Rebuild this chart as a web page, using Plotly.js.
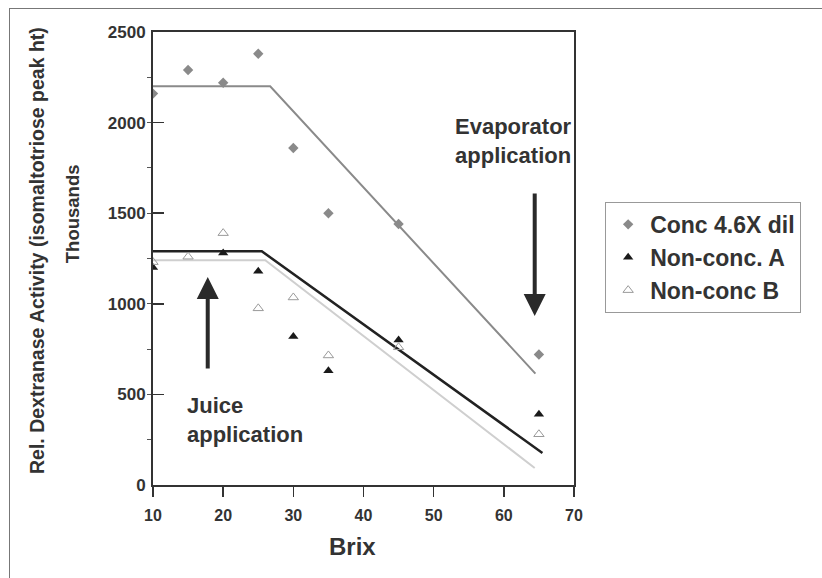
<!DOCTYPE html>
<html>
<head>
<meta charset="utf-8">
<script src="https://cdn.plot.ly/plotly-3.0.1.min.js"></script>
<style>
  html, body { margin: 0; padding: 0; background: #fff; }
  #wrap { position: relative; width: 822px; height: 578px; }
  #chart { position: absolute; left: 0; top: 0; width: 822px; height: 578px; }
  #frame { position: absolute; left: 9px; top: 8px; width: 813px; height: 570px;
           border-left: 1.5px solid #777; border-top: 1.5px solid #777; pointer-events: none; }
</style>
</head>
<body>
<div id="wrap"><div id="chart"></div><div id="frame"></div></div>
<script>
// Data
const brixConc = [10, 15, 20, 25, 30, 35, 45, 65];
const concVals = [2160, 2290, 2220, 2380, 1860, 1500, 1440, 720];

const brixA = [10, 20, 25, 30, 35, 45, 65];
const nonConcA = [1200, 1280, 1180, 820, 630, 800, 390];

const brixB = [10, 15, 20, 25, 30, 35, 45, 65];
const nonConcB = [1230, 1260, 1390, 975, 1035, 715, 760, 280];

// fitted break-point lines
const fitConcX = [10, 26.7, 64.5];
const fitConcY = [2200, 2200, 615];
const fitAX = [10, 25.5, 65.5];
const fitAY = [1290, 1290, 177];
const fitBX = [10, 26, 64.4];
const fitBY = [1240, 1240, 94];

const xTicks = [10, 20, 30, 40, 50, 60, 70];
const yTicks = [0, 500, 1000, 1500, 2000, 2500];

const FONT = 'Liberation Sans, Arial, sans-serif';

const traces = [
  {x: fitBX, y: fitBY, mode: 'lines', line: {color: '#cfcfcf', width: 2}, showlegend: false, hoverinfo: 'skip'},
  {x: fitAX, y: fitAY, mode: 'lines', line: {color: '#222', width: 2.5}, showlegend: false, hoverinfo: 'skip'},
  {x: fitConcX, y: fitConcY, mode: 'lines', line: {color: '#8a8a8a', width: 2}, showlegend: false, hoverinfo: 'skip'},
  {x: brixConc, y: concVals, mode: 'markers', name: 'Conc 4.6X dil',
   marker: {symbol: 'diamond', size: 8, color: '#8a8a8a'}},
  {x: brixA, y: nonConcA, mode: 'markers', name: 'Non-conc. A',
   marker: {symbol: 'triangle-up', size: 9, color: '#1a1a1a'}},
  {x: brixB, y: nonConcB, mode: 'markers', name: 'Non-conc B',
   marker: {symbol: 'triangle-up-open', size: 9, color: '#9a9a9a', line: {width: 1}}}
];

const layout = {
  width: 822, height: 578,
  margin: {l: 153, r: 248, t: 32, b: 93},
  paper_bgcolor: '#fff', plot_bgcolor: '#fff',
  font: {family: FONT, color: '#333'},
  showlegend: true,
  legend: {
    x: 1.074, y: 0.625, xanchor: 'left', yanchor: 'top',
    bordercolor: '#999', borderwidth: 1, bgcolor: '#fff',
    font: {family: FONT, size: 23, color: '#333', weight: 'bold'},
    itemwidth: 34
  },
  xaxis: {
    range: [10, 70], tickvals: xTicks, ticktext: xTicks.map(String),
    ticks: 'outside', ticklen: 10, tickwidth: 1.5, tickcolor: '#333',
    showline: true, linecolor: '#333', linewidth: 2, mirror: true,
    showgrid: false, zeroline: false,
    tickfont: {family: FONT, size: 16, color: '#333', weight: 'bold'},
    ticklabelstandoff: 5
  },
  yaxis: {
    range: [0, 2500], tickvals: yTicks, ticktext: yTicks.map(String),
    ticks: 'inside', ticklen: 11, tickwidth: 1.5, tickcolor: '#333',
    minor: {dtick: 250, ticks: 'outside', ticklen: 4, tickwidth: 1, tickcolor: '#555', showgrid: false},
    showline: true, linecolor: '#333', linewidth: 2, mirror: true,
    showgrid: false, zeroline: false,
    tickfont: {family: FONT, size: 17, color: '#333', weight: 'bold'},
    ticklabelstandoff: 2
  },
  annotations: [
    {text: 'Rel. Dextranase Activity (isomaltotriose peak ht)', xref: 'paper', yref: 'paper',
     x: -0.2755, y: 0.5166, xanchor: 'center', yanchor: 'middle', textangle: -90, showarrow: false,
     font: {family: FONT, size: 19.5, color: '#333', weight: 'bold'}},
    {text: 'Thousands', xref: 'paper', yref: 'paper',
     x: -0.1924, y: 0.6, xanchor: 'center', yanchor: 'middle', textangle: -90, showarrow: false,
     font: {family: FONT, size: 18.5, color: '#333', weight: 'bold'}},
    {text: 'Brix', xref: 'paper', yref: 'paper', x: 0.475, y: -0.1347,
     xanchor: 'center', yanchor: 'middle', showarrow: false,
     font: {family: FONT, size: 24, color: '#333', weight: 'bold'}},
    {text: 'Evaporator<br>application', xref: 'x', yref: 'y', x: 61.4, y: 1898,
     xanchor: 'center', yanchor: 'middle', showarrow: false,
     font: {family: FONT, size: 22, color: '#333', weight: 'bold'}},
    {text: 'Juice<br>application', xref: 'x', yref: 'y', x: 14.56, y: 359, align: 'left',
     xanchor: 'left', yanchor: 'middle', showarrow: false,
     font: {family: FONT, size: 22, color: '#333', weight: 'bold'}},
    {text: '', xref: 'x', yref: 'y', x: 64.4, y: 933, axref: 'x', ayref: 'y', ax: 64.4, ay: 1617,
     showarrow: true, arrowhead: 2, arrowsize: 1.1, arrowwidth: 4, arrowcolor: '#2a2a2a'},
    {text: '', xref: 'x', yref: 'y', x: 17.8, y: 1148, axref: 'x', ayref: 'y', ax: 17.8, ay: 635,
     showarrow: true, arrowhead: 2, arrowsize: 1.1, arrowwidth: 4, arrowcolor: '#2a2a2a'}
  ]
};

Plotly.newPlot('chart', traces, layout, {displayModeBar: false, staticPlot: true});
</script>
</body>
</html>
